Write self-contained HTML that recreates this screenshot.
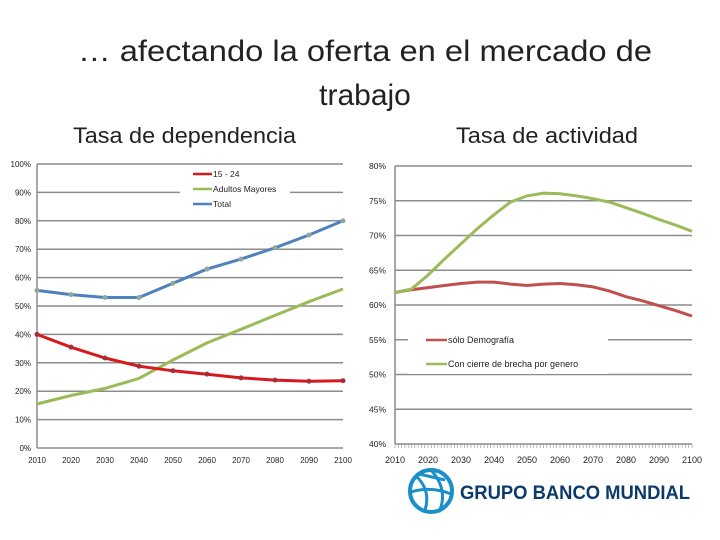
<!DOCTYPE html>
<html><head><meta charset="utf-8"><style>
body{margin:0;width:720px;height:540px;background:#fff;overflow:hidden;font-family:"Liberation Sans",sans-serif}
svg{position:absolute;left:0;top:0}
</style></head><body>
<svg width="720" height="540">
<text x="78" y="61" textLength="574" lengthAdjust="spacingAndGlyphs" font-size="30" fill="#222">… afectando la oferta en el mercado de</text>
<text x="365" y="105" text-anchor="middle" font-size="30" fill="#222">trabajo</text>
<text x="73" y="143" textLength="223" lengthAdjust="spacingAndGlyphs" font-size="22" fill="#222">Tasa de dependencia</text>
<text x="456" y="143" textLength="182" lengthAdjust="spacingAndGlyphs" font-size="22" fill="#222">Tasa de actividad</text>
<g id="left"></g>
<g id="right"></g>
<g>
<circle cx="431" cy="491" r="21" fill="none" stroke="#1a8fc9" stroke-width="4"/>
<path d="M417 477 Q431 491 425 510 M431 470 Q449 490 439 512 M411 492 Q431 486 451 494 M419 474 L445 480" fill="none" stroke="#1a8fc9" stroke-width="3"/>
<text x="460" y="499" textLength="230" lengthAdjust="spacingAndGlyphs" font-size="19" font-weight="bold" fill="#0b3a6b">GRUPO BANCO MUNDIAL</text>
</g>
</svg>
<script>
const years=[2010,2020,2030,2040,2050,2060,2070,2080,2090,2100];
const youth=[40,35.5,31.7,28.8,27.2,26,24.7,23.9,23.5,23.7];
const elderly=[15.5,18.5,21,24.5,31,37,41.8,46.7,51.5,56];
const total=[55.5,54,53,53,58,63,66.5,70.5,75,80];
const leftTicks=[0,10,20,30,40,50,60,70,80,90,100];
const years5=[2010,2015,2020,2025,2030,2035,2040,2045,2050,2055,2060,2065,2070,2075,2080,2085,2090,2095,2100];
const demog=[61.8,62.2,62.5,62.8,63.1,63.3,63.3,63.0,62.8,63.0,63.1,62.9,62.6,62.0,61.2,60.6,59.9,59.2,58.4];
const gender=[61.8,62.3,64.3,66.6,68.8,71.0,73.0,74.8,75.7,76.1,76.0,75.7,75.3,74.8,74.0,73.2,72.3,71.5,70.6];
const rightTicks=[40,45,50,55,60,65,70,75,80];
const xLabels=[2010,2020,2030,2040,2050,2060,2070,2080,2090,2100];
const NS="http://www.w3.org/2000/svg";
function mk(p,t,a){const e=document.createElementNS(NS,t);for(const k in a)e.setAttribute(k,a[k]);p.appendChild(e);return e;}
function path(xs,ys,fx,fy){return xs.map((v,i)=>(i?'L':'M')+fx(v).toFixed(1)+' '+fy(ys[i]).toFixed(1)).join(' ');}
// left
const L=document.getElementById('left');
const lx=v=>37+(v-2010)/90*306, ly=v=>448-v*2.84;
leftTicks.forEach(t=>{
 const g=mk(L,'line',{x1:37,x2:343,y1:ly(t),y2:ly(t),stroke:'#8c8c8c','stroke-width':1.5});
 
 
 const tx=mk(L,'text',{x:31,y:ly(t)+3,'text-anchor':'end','font-size':8,fill:'#222'});tx.textContent=t+'%';
 
 
});
mk(L,'line',{x1:37,x2:37,y1:164,y2:448,stroke:'#8c8c8c','stroke-width':1.5});
xLabels.forEach(t=>{const tx=mk(L,'text',{x:lx(t),y:463,'text-anchor':'middle','font-size':8,fill:'#222'});tx.textContent=t;
 
 });
mk(L,'rect',{x:180,y:166,width:110,height:46,fill:'#fff'});
[[total,'#4f81bd','total-line'],[elderly,'#9bbb59','elderly-line'],[youth,'#d7191c','youth-line']].forEach(([d,c,n])=>{
 const p=mk(L,'path',{d:path(years,d,lx,ly),fill:'none',stroke:c,'stroke-width':3});
 
 
 if(d!==elderly) years.forEach((y,i)=>{const m=mk(L,'circle',{cx:lx(y),cy:ly(d[i]),r:2.5,fill:d===total?'#8fa89a':'#a03040'});
  
  });
});
[['15 - 24','#d7191c',174],['Adultos Mayores','#9bbb59',189],['Total','#4f81bd',204]].forEach(([t,c,y])=>{
 mk(L,'line',{x1:193,x2:212,y1:y,y2:y,stroke:c,'stroke-width':2.5});
 const tx=mk(L,'text',{x:213,y:y+3,'font-size':8.5,fill:'#222'});tx.textContent=t;
 
 
});
// right
const R=document.getElementById('right');
const rx=v=>395+(v-2010)/90*297, ry=v=>444-(v-40)*6.95;
rightTicks.forEach(t=>{
 const g=mk(R,'line',{x1:395,x2:692,y1:ry(t),y2:ry(t),stroke:'#8c8c8c','stroke-width':1.5});
 
 
 const tx=mk(R,'text',{x:386,y:ry(t)+3,'text-anchor':'end','font-size':8.5,fill:'#222'});tx.textContent=t+'%';
 
 
});
mk(R,'line',{x1:395,x2:395,y1:166,y2:444,stroke:'#8c8c8c','stroke-width':1.5});
for(let y=2010;y<=2100;y++)mk(R,'line',{x1:rx(y),x2:rx(y),y1:444,y2:448,stroke:'#8c8c8c','stroke-width':0.6});
xLabels.forEach(t=>{const tx=mk(R,'text',{x:rx(t),y:463,'text-anchor':'middle','font-size':9,fill:'#222'});tx.textContent=t;
 
 });
mk(R,'rect',{x:408,y:330,width:200,height:44,fill:'#fff'});
[[demog,'#c0504d','demography-line'],[gender,'#9bbb59','gender-gap-line']].forEach(([d,c,n])=>{
 const p=mk(R,'path',{d:path(years5,d,rx,ry),fill:'none',stroke:c,'stroke-width':3});
 
 
});
[['sólo Demografía','#c0504d',340],['Con cierre de brecha por genero','#9bbb59',364]].forEach(([t,c,y])=>{
 mk(R,'line',{x1:426,x2:447,y1:y,y2:y,stroke:c,'stroke-width':2.5});
 const tx=mk(R,'text',{x:448,y:y+3,'font-size':9,fill:'#222'});tx.textContent=t;
 
 
});
</script>
</body></html>
